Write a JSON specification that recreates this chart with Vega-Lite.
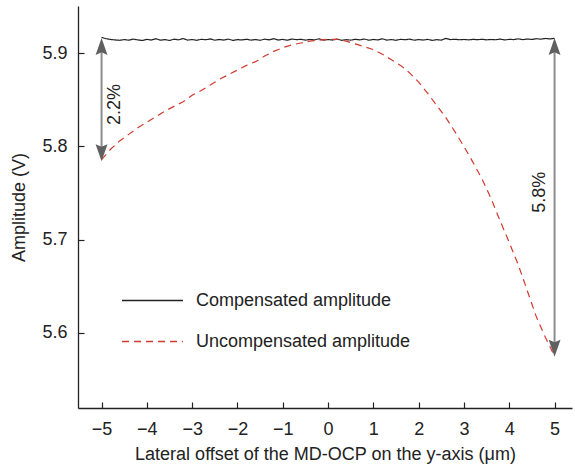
{
  "$schema": "https://vega.github.io/schema/vega-lite/v6.json",
  "width": 494,
  "height": 402,
  "autosize": "none",
  "padding": {"left": 78, "top": 6, "right": 3, "bottom": 64},
  "background": "white",
  "config": {
    "view": {"stroke": null},
    "font": "Liberation Sans",
    "axis": {
      "domainColor": "#222", "tickColor": "#222", "labelColor": "#222", "titleColor": "#222",
      "labelFont": "Liberation Sans", "titleFont": "Liberation Sans",
      "labelFontSize": 18, "titleFontSize": 18, "titleFontWeight": "normal",
      "grid": false, "tickSize": -6, "domainWidth": 1.3, "tickWidth": 1.2
    }
  },
  "datasets": {
    "lines": [
      {"x": -5.0, "y": 5.9170, "s": "Compensated amplitude"},
      {"x": -4.9, "y": 5.9156, "s": "Compensated amplitude"},
      {"x": -4.8, "y": 5.9148, "s": "Compensated amplitude"},
      {"x": -4.7, "y": 5.9143, "s": "Compensated amplitude"},
      {"x": -4.6, "y": 5.9139, "s": "Compensated amplitude"},
      {"x": -4.5, "y": 5.9147, "s": "Compensated amplitude"},
      {"x": -4.4, "y": 5.9140, "s": "Compensated amplitude"},
      {"x": -4.3, "y": 5.9152, "s": "Compensated amplitude"},
      {"x": -4.2, "y": 5.9143, "s": "Compensated amplitude"},
      {"x": -4.1, "y": 5.9137, "s": "Compensated amplitude"},
      {"x": -4.0, "y": 5.9149, "s": "Compensated amplitude"},
      {"x": -3.9, "y": 5.9142, "s": "Compensated amplitude"},
      {"x": -3.8, "y": 5.9156, "s": "Compensated amplitude"},
      {"x": -3.7, "y": 5.9140, "s": "Compensated amplitude"},
      {"x": -3.6, "y": 5.9147, "s": "Compensated amplitude"},
      {"x": -3.5, "y": 5.9137, "s": "Compensated amplitude"},
      {"x": -3.4, "y": 5.9151, "s": "Compensated amplitude"},
      {"x": -3.3, "y": 5.9144, "s": "Compensated amplitude"},
      {"x": -3.2, "y": 5.9158, "s": "Compensated amplitude"},
      {"x": -3.1, "y": 5.9141, "s": "Compensated amplitude"},
      {"x": -3.0, "y": 5.9147, "s": "Compensated amplitude"},
      {"x": -2.9, "y": 5.9139, "s": "Compensated amplitude"},
      {"x": -2.8, "y": 5.9150, "s": "Compensated amplitude"},
      {"x": -2.7, "y": 5.9145, "s": "Compensated amplitude"},
      {"x": -2.6, "y": 5.9154, "s": "Compensated amplitude"},
      {"x": -2.5, "y": 5.9140, "s": "Compensated amplitude"},
      {"x": -2.4, "y": 5.9148, "s": "Compensated amplitude"},
      {"x": -2.3, "y": 5.9142, "s": "Compensated amplitude"},
      {"x": -2.2, "y": 5.9152, "s": "Compensated amplitude"},
      {"x": -2.1, "y": 5.9138, "s": "Compensated amplitude"},
      {"x": -2.0, "y": 5.9146, "s": "Compensated amplitude"},
      {"x": -1.9, "y": 5.9143, "s": "Compensated amplitude"},
      {"x": -1.8, "y": 5.9150, "s": "Compensated amplitude"},
      {"x": -1.7, "y": 5.9141, "s": "Compensated amplitude"},
      {"x": -1.6, "y": 5.9147, "s": "Compensated amplitude"},
      {"x": -1.5, "y": 5.9139, "s": "Compensated amplitude"},
      {"x": -1.4, "y": 5.9151, "s": "Compensated amplitude"},
      {"x": -1.3, "y": 5.9144, "s": "Compensated amplitude"},
      {"x": -1.2, "y": 5.9157, "s": "Compensated amplitude"},
      {"x": -1.1, "y": 5.9142, "s": "Compensated amplitude"},
      {"x": -1.0, "y": 5.9149, "s": "Compensated amplitude"},
      {"x": -0.9, "y": 5.9140, "s": "Compensated amplitude"},
      {"x": -0.8, "y": 5.9153, "s": "Compensated amplitude"},
      {"x": -0.7, "y": 5.9146, "s": "Compensated amplitude"},
      {"x": -0.6, "y": 5.9150, "s": "Compensated amplitude"},
      {"x": -0.5, "y": 5.9141, "s": "Compensated amplitude"},
      {"x": -0.4, "y": 5.9148, "s": "Compensated amplitude"},
      {"x": -0.3, "y": 5.9143, "s": "Compensated amplitude"},
      {"x": -0.2, "y": 5.9155, "s": "Compensated amplitude"},
      {"x": -0.1, "y": 5.9140, "s": "Compensated amplitude"},
      {"x": 0.0, "y": 5.9147, "s": "Compensated amplitude"},
      {"x": 0.1, "y": 5.9142, "s": "Compensated amplitude"},
      {"x": 0.2, "y": 5.9152, "s": "Compensated amplitude"},
      {"x": 0.3, "y": 5.9139, "s": "Compensated amplitude"},
      {"x": 0.4, "y": 5.9146, "s": "Compensated amplitude"},
      {"x": 0.5, "y": 5.9141, "s": "Compensated amplitude"},
      {"x": 0.6, "y": 5.9150, "s": "Compensated amplitude"},
      {"x": 0.7, "y": 5.9144, "s": "Compensated amplitude"},
      {"x": 0.8, "y": 5.9153, "s": "Compensated amplitude"},
      {"x": 0.9, "y": 5.9140, "s": "Compensated amplitude"},
      {"x": 1.0, "y": 5.9148, "s": "Compensated amplitude"},
      {"x": 1.1, "y": 5.9143, "s": "Compensated amplitude"},
      {"x": 1.2, "y": 5.9155, "s": "Compensated amplitude"},
      {"x": 1.3, "y": 5.9141, "s": "Compensated amplitude"},
      {"x": 1.4, "y": 5.9147, "s": "Compensated amplitude"},
      {"x": 1.5, "y": 5.9139, "s": "Compensated amplitude"},
      {"x": 1.6, "y": 5.9150, "s": "Compensated amplitude"},
      {"x": 1.7, "y": 5.9145, "s": "Compensated amplitude"},
      {"x": 1.8, "y": 5.9152, "s": "Compensated amplitude"},
      {"x": 1.9, "y": 5.9140, "s": "Compensated amplitude"},
      {"x": 2.0, "y": 5.9147, "s": "Compensated amplitude"},
      {"x": 2.1, "y": 5.9142, "s": "Compensated amplitude"},
      {"x": 2.2, "y": 5.9149, "s": "Compensated amplitude"},
      {"x": 2.3, "y": 5.9138, "s": "Compensated amplitude"},
      {"x": 2.4, "y": 5.9146, "s": "Compensated amplitude"},
      {"x": 2.5, "y": 5.9141, "s": "Compensated amplitude"},
      {"x": 2.6, "y": 5.9160, "s": "Compensated amplitude"},
      {"x": 2.7, "y": 5.9147, "s": "Compensated amplitude"},
      {"x": 2.8, "y": 5.9150, "s": "Compensated amplitude"},
      {"x": 2.9, "y": 5.9145, "s": "Compensated amplitude"},
      {"x": 3.0, "y": 5.9148, "s": "Compensated amplitude"},
      {"x": 3.1, "y": 5.9144, "s": "Compensated amplitude"},
      {"x": 3.2, "y": 5.9149, "s": "Compensated amplitude"},
      {"x": 3.3, "y": 5.9146, "s": "Compensated amplitude"},
      {"x": 3.4, "y": 5.9150, "s": "Compensated amplitude"},
      {"x": 3.5, "y": 5.9144, "s": "Compensated amplitude"},
      {"x": 3.6, "y": 5.9148, "s": "Compensated amplitude"},
      {"x": 3.7, "y": 5.9145, "s": "Compensated amplitude"},
      {"x": 3.8, "y": 5.9152, "s": "Compensated amplitude"},
      {"x": 3.9, "y": 5.9143, "s": "Compensated amplitude"},
      {"x": 4.0, "y": 5.9149, "s": "Compensated amplitude"},
      {"x": 4.1, "y": 5.9147, "s": "Compensated amplitude"},
      {"x": 4.2, "y": 5.9155, "s": "Compensated amplitude"},
      {"x": 4.3, "y": 5.9146, "s": "Compensated amplitude"},
      {"x": 4.4, "y": 5.9153, "s": "Compensated amplitude"},
      {"x": 4.5, "y": 5.9148, "s": "Compensated amplitude"},
      {"x": 4.6, "y": 5.9156, "s": "Compensated amplitude"},
      {"x": 4.7, "y": 5.9151, "s": "Compensated amplitude"},
      {"x": 4.8, "y": 5.9159, "s": "Compensated amplitude"},
      {"x": 4.9, "y": 5.9154, "s": "Compensated amplitude"},
      {"x": 5.0, "y": 5.9160, "s": "Compensated amplitude"},
      {"x": -5.0, "y": 5.786, "s": "Uncompensated amplitude"},
      {"x": -4.8, "y": 5.797, "s": "Uncompensated amplitude"},
      {"x": -4.6, "y": 5.806, "s": "Uncompensated amplitude"},
      {"x": -4.4, "y": 5.813, "s": "Uncompensated amplitude"},
      {"x": -4.2, "y": 5.820, "s": "Uncompensated amplitude"},
      {"x": -4.0, "y": 5.826, "s": "Uncompensated amplitude"},
      {"x": -3.8, "y": 5.832, "s": "Uncompensated amplitude"},
      {"x": -3.6, "y": 5.838, "s": "Uncompensated amplitude"},
      {"x": -3.4, "y": 5.843, "s": "Uncompensated amplitude"},
      {"x": -3.2, "y": 5.848, "s": "Uncompensated amplitude"},
      {"x": -3.0, "y": 5.855, "s": "Uncompensated amplitude"},
      {"x": -2.8, "y": 5.860, "s": "Uncompensated amplitude"},
      {"x": -2.6, "y": 5.866, "s": "Uncompensated amplitude"},
      {"x": -2.4, "y": 5.872, "s": "Uncompensated amplitude"},
      {"x": -2.2, "y": 5.877, "s": "Uncompensated amplitude"},
      {"x": -2.0, "y": 5.882, "s": "Uncompensated amplitude"},
      {"x": -1.8, "y": 5.887, "s": "Uncompensated amplitude"},
      {"x": -1.6, "y": 5.891, "s": "Uncompensated amplitude"},
      {"x": -1.4, "y": 5.897, "s": "Uncompensated amplitude"},
      {"x": -1.2, "y": 5.902, "s": "Uncompensated amplitude"},
      {"x": -1.0, "y": 5.906, "s": "Uncompensated amplitude"},
      {"x": -0.8, "y": 5.909, "s": "Uncompensated amplitude"},
      {"x": -0.6, "y": 5.911, "s": "Uncompensated amplitude"},
      {"x": -0.4, "y": 5.913, "s": "Uncompensated amplitude"},
      {"x": -0.2, "y": 5.914, "s": "Uncompensated amplitude"},
      {"x": 0.0, "y": 5.915, "s": "Uncompensated amplitude"},
      {"x": 0.2, "y": 5.915, "s": "Uncompensated amplitude"},
      {"x": 0.4, "y": 5.913, "s": "Uncompensated amplitude"},
      {"x": 0.6, "y": 5.910, "s": "Uncompensated amplitude"},
      {"x": 0.8, "y": 5.907, "s": "Uncompensated amplitude"},
      {"x": 1.0, "y": 5.904, "s": "Uncompensated amplitude"},
      {"x": 1.2, "y": 5.899, "s": "Uncompensated amplitude"},
      {"x": 1.4, "y": 5.893, "s": "Uncompensated amplitude"},
      {"x": 1.6, "y": 5.887, "s": "Uncompensated amplitude"},
      {"x": 1.8, "y": 5.879, "s": "Uncompensated amplitude"},
      {"x": 2.0, "y": 5.869, "s": "Uncompensated amplitude"},
      {"x": 2.2, "y": 5.857, "s": "Uncompensated amplitude"},
      {"x": 2.4, "y": 5.844, "s": "Uncompensated amplitude"},
      {"x": 2.6, "y": 5.831, "s": "Uncompensated amplitude"},
      {"x": 2.8, "y": 5.816, "s": "Uncompensated amplitude"},
      {"x": 3.0, "y": 5.800, "s": "Uncompensated amplitude"},
      {"x": 3.2, "y": 5.783, "s": "Uncompensated amplitude"},
      {"x": 3.4, "y": 5.765, "s": "Uncompensated amplitude"},
      {"x": 3.6, "y": 5.744, "s": "Uncompensated amplitude"},
      {"x": 3.8, "y": 5.720, "s": "Uncompensated amplitude"},
      {"x": 4.0, "y": 5.697, "s": "Uncompensated amplitude"},
      {"x": 4.2, "y": 5.673, "s": "Uncompensated amplitude"},
      {"x": 4.4, "y": 5.645, "s": "Uncompensated amplitude"},
      {"x": 4.6, "y": 5.617, "s": "Uncompensated amplitude"},
      {"x": 4.8, "y": 5.595, "s": "Uncompensated amplitude"},
      {"x": 5.0, "y": 5.575, "s": "Uncompensated amplitude"}
    ],
    "shafts": [
      {"x": -5, "y1": 5.905, "y2": 5.795},
      {"x": 5, "y1": 5.905, "y2": 5.585}
    ],
    "headsUp": [
      {"x": -5, "y": 5.9165},
      {"x": 5, "y": 5.9165}
    ],
    "headsDown": [
      {"x": -5, "y": 5.7842},
      {"x": 5, "y": 5.5745}
    ],
    "labels": [
      {"x": -4.7, "y": 5.845, "t": "2.2%"},
      {"x": 4.67, "y": 5.751, "t": "5.8%"}
    ]
  },
  "layer": [
    {
      "mark": {"type": "rule", "color": "#222", "strokeWidth": 1.3},
      "encoding": {"y": {"datum": 5.9507, "type": "quantitative", "scale": {"domain": [5.5195, 5.9507]}}}
    },
    {
      "mark": {"type": "rule", "color": "#d8d8d8", "strokeWidth": 1},
      "encoding": {"x": {"datum": 5.385, "type": "quantitative", "scale": {"domain": [-5.52, 5.385]}}}
    },
    {
      "data": {"name": "lines"},
      "mark": {"type": "line", "strokeWidth": 1.2},
      "encoding": {
        "x": {"field": "x", "type": "quantitative",
              "scale": {"domain": [-5.52, 5.385], "nice": false, "zero": false},
              "axis": {"values": [-5, -4, -3, -2, -1, 0, 1, 2, 3, 4, 5], "labelPadding": 18, "title": "Lateral offset of the MD-OCP on the y-axis (μm)", "titlePadding": 7}},
        "y": {"field": "y", "type": "quantitative",
              "scale": {"domain": [5.5195, 5.9507], "nice": false, "zero": false},
              "axis": {"values": [5.6, 5.7, 5.8, 5.9], "format": ".1f", "labelPadding": 17, "title": "Amplitude (V)", "titlePadding": 13}},
        "color": {"field": "s", "type": "nominal",
                  "scale": {"domain": ["Compensated amplitude", "Uncompensated amplitude"], "range": ["#222222", "#d13a2e"]},
                  "legend": {"title": null, "orient": "none", "legendX": 43, "legendY": 263, "symbolType": "stroke", "symbolSize": 3721, "symbolStrokeWidth": 1.3, "labelFontSize": 18, "labelFont": "Liberation Sans", "labelColor": "#222", "labelLimit": 0, "rowPadding": -19, "labelOffset": 12, "padding": 0}},
        "strokeDash": {"field": "s", "type": "nominal",
                  "scale": {"domain": ["Compensated amplitude", "Uncompensated amplitude"], "range": [[1, 0], [7, 5]]},
                  "legend": {"title": null, "orient": "none", "legendX": 43, "legendY": 263, "symbolType": "stroke", "symbolSize": 3721, "symbolStrokeWidth": 1.3, "labelFontSize": 18, "labelFont": "Liberation Sans", "labelColor": "#222", "labelLimit": 0, "rowPadding": -19, "labelOffset": 12, "padding": 0}}
      }
    },
    {
      "data": {"name": "shafts"},
      "mark": {"type": "rule", "color": "#8c8c8c", "strokeWidth": 2},
      "encoding": {
        "x": {"field": "x", "type": "quantitative"},
        "y": {"field": "y1", "type": "quantitative"},
        "y2": {"field": "y2"}
      }
    },
    {
      "data": {"name": "headsUp"},
      "mark": {"type": "point", "shape": "M0,0L0.7,2L0,1.7L-0.7,2Z", "size": 289, "filled": true, "color": "#606060", "opacity": 1},
      "encoding": {
        "x": {"field": "x", "type": "quantitative"},
        "y": {"field": "y", "type": "quantitative"}
      }
    },
    {
      "data": {"name": "headsDown"},
      "mark": {"type": "point", "shape": "M0,0L0.7,-2L0,-1.7L-0.7,-2Z", "size": 289, "filled": true, "color": "#606060", "opacity": 1},
      "encoding": {
        "x": {"field": "x", "type": "quantitative"},
        "y": {"field": "y", "type": "quantitative"}
      }
    },
    {
      "data": {"name": "labels"},
      "mark": {"type": "text", "angle": 270, "fontSize": 18, "font": "Liberation Sans", "color": "#222", "align": "center", "baseline": "middle"},
      "encoding": {
        "x": {"field": "x", "type": "quantitative"},
        "y": {"field": "y", "type": "quantitative"},
        "text": {"field": "t"}
      }
    }
  ]
}
